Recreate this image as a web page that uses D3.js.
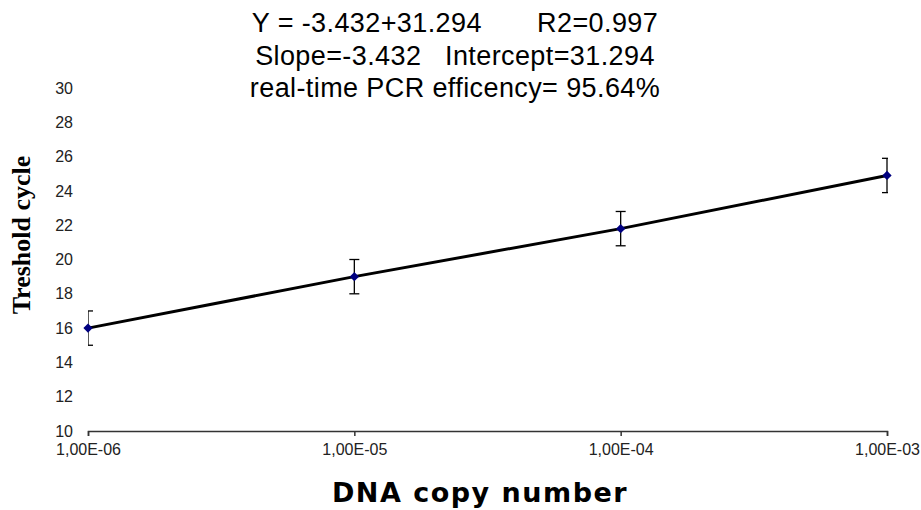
<!DOCTYPE html>
<html>
<head>
<meta charset="utf-8">
<script src="https://cdn.jsdelivr.net/npm/d3@7"></script>
<style>
  body { margin: 0; background: #fff; }
</style>
</head>
<body>
<svg width="921" height="510"></svg>
<script>
// data
var copyNumber = [1e-6, 1e-5, 1e-4, 1e-3];
var thresholdCycle = [16.0, 19.0, 21.8, 24.9];
var errorSize = [1.0, 1.0, 1.0, 1.0];
var yTicks = [10, 12, 14, 16, 18, 20, 22, 24, 26, 28, 30];
var titleLines = [
  "Y = -3.432+31.294       R2=0.997",
  "Slope=-3.432   Intercept=31.294",
  "real-time PCR efficency= 95.64%"
];

var sans = "Arial, 'Liberation Sans', sans-serif";

var svg = d3.select("svg"),
  width = +svg.attr("width"),
  height = +svg.attr("height");

var margin = { left: 88, right: 34, top: 88, bottom: 79 };

var x = d3.scaleLog()
  .domain([1e-6, 1e-3])
  .range([margin.left, width - margin.right]);

var y = d3.scaleLinear()
  .domain([10, 30])
  .range([height - margin.bottom, margin.top]);

var points = copyNumber.map(function (c, i) {
  return { x: c, y: thresholdCycle[i], e: errorSize[i] };
});

svg.append("defs").append("clipPath")
  .attr("id", "plotclip")
  .append("rect")
  .attr("x", x.range()[0])
  .attr("y", 0)
  .attr("width", x.range()[1] - x.range()[0] + 1)
  .attr("height", height);

// title
svg.append("g")
  .selectAll("text")
  .data(titleLines)
  .enter()
  .append("text")
  .attr("x", 455)
  .attr("y", function (d, i) { return 32 + i * 32.5; })
  .attr("text-anchor", "middle")
  .style("font-family", sans)
  .style("font-size", "27px")
  .style("letter-spacing", "0.4px")
  .style("white-space", "pre")
  .attr("fill", "#000")
  .text(function (d) { return d; });

// y tick labels (no axis line)
svg.append("g")
  .selectAll("text")
  .data(yTicks)
  .enter()
  .append("text")
  .attr("x", 73)
  .attr("y", function (d) { return y(d); })
  .attr("dy", "0.35em")
  .attr("text-anchor", "end")
  .style("font-family", sans)
  .style("font-size", "16px")
  .attr("fill", "#222")
  .text(function (d) { return d; });

// x axis
var xAxis = d3.axisBottom(x)
  .tickValues(copyNumber)
  .tickSize(5)
  .tickPadding(8)
  .tickFormat(function (d) {
    var exp = Math.round(Math.log10(d));
    var s = exp < 0 ? "-" : "+";
    return "1,00E" + s + String(Math.abs(exp)).padStart(2, "0");
  });

var gx = svg.append("g")
  .attr("transform", "translate(0," + y(10) + ")")
  .call(xAxis);
gx.select(".domain").attr("stroke", "#333").attr("stroke-width", 1.5);
gx.selectAll(".tick line").attr("stroke", "#333").attr("stroke-width", 1.5);
gx.selectAll(".tick text")
  .style("font-family", sans)
  .style("font-size", "16px")
  .attr("fill", "#222");

// line through the points
var line = d3.line()
  .x(function (d) { return x(d.x); })
  .y(function (d) { return y(d.y); });

svg.append("path")
  .datum(points)
  .attr("d", line)
  .attr("fill", "none")
  .attr("stroke", "#000")
  .attr("stroke-width", 3);

// error bars
var eb = svg.append("g")
  .attr("clip-path", "url(#plotclip)")
  .selectAll("g")
  .data(points)
  .enter()
  .append("g")
  .attr("stroke", "#000")
  .attr("stroke-width", 1.3);

eb.append("line")
  .attr("x1", function (d) { return x(d.x); })
  .attr("x2", function (d) { return x(d.x); })
  .attr("y1", function (d) { return y(d.y - d.e); })
  .attr("y2", function (d) { return y(d.y + d.e); });
eb.append("line")
  .attr("x1", function (d) { return x(d.x) - 5; })
  .attr("x2", function (d) { return x(d.x) + 5; })
  .attr("y1", function (d) { return y(d.y + d.e); })
  .attr("y2", function (d) { return y(d.y + d.e); });
eb.append("line")
  .attr("x1", function (d) { return x(d.x) - 5; })
  .attr("x2", function (d) { return x(d.x) + 5; })
  .attr("y1", function (d) { return y(d.y - d.e); })
  .attr("y2", function (d) { return y(d.y - d.e); });

// diamond markers
svg.append("g")
  .selectAll("path")
  .data(points)
  .enter()
  .append("path")
  .attr("d", d3.symbol().type(d3.symbolDiamond2).size(55))
  .attr("transform", function (d) {
    return "translate(" + x(d.x) + "," + y(d.y) + ")";
  })
  .attr("fill", "#000080");

// axis titles
svg.append("text")
  .attr("x", 480)
  .attr("y", 502)
  .attr("text-anchor", "middle")
  .style("font-family", "'DejaVu Sans', sans-serif")
  .style("font-weight", "bold")
  .style("font-size", "27px")
  .style("letter-spacing", "1.5px")
  .attr("fill", "#000")
  .text("DNA copy number");

svg.append("text")
  .attr("transform", "translate(30,235) rotate(-90)")
  .attr("text-anchor", "middle")
  .style("font-family", "'Liberation Serif', 'Times New Roman', serif")
  .style("font-weight", "bold")
  .style("font-size", "26px")
  .attr("fill", "#000")
  .text("Treshold cycle");
</script>
</body>
</html>
